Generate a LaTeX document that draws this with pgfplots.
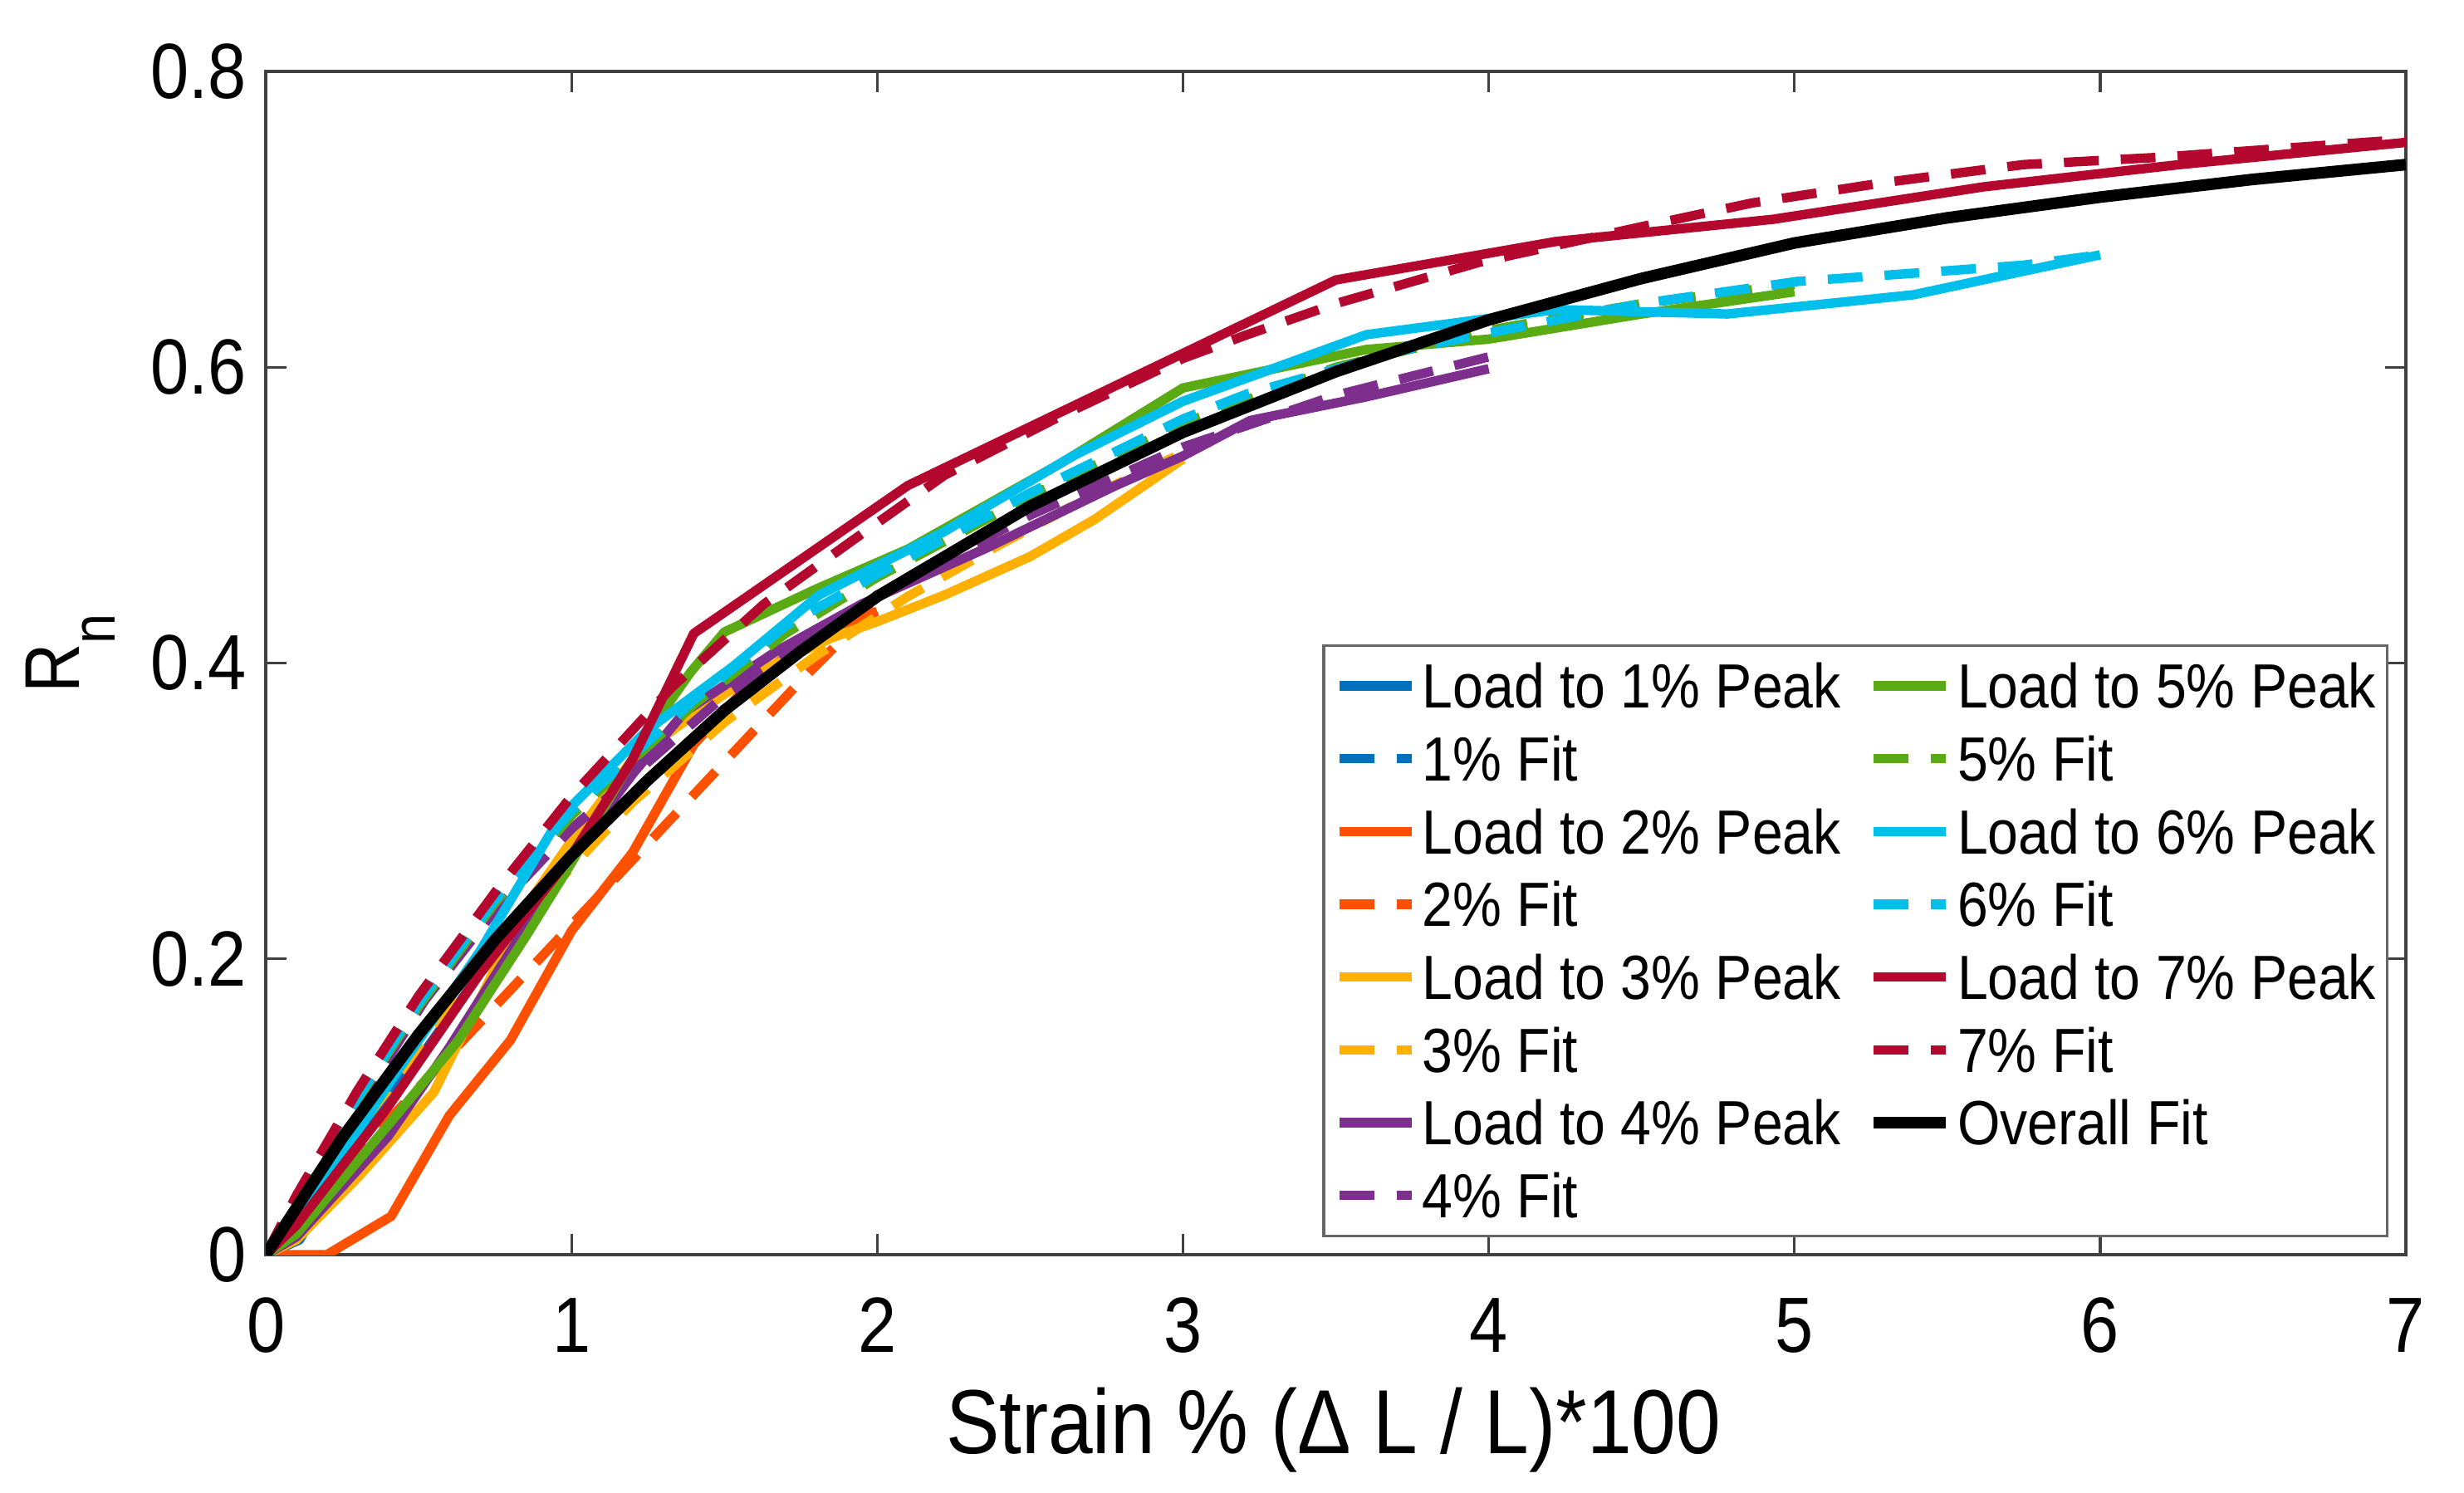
\documentclass[border=0pt]{standalone}
\usepackage{pgfplots}
\pgfplotsset{compat=1.18}
\usepackage{fontspec}
\setmainfont{Liberation Sans}[FakeStretch=0.88]
\definecolor{c1}{HTML}{0072BD}
\definecolor{c2}{HTML}{FF5000}
\definecolor{c3}{HTML}{FFB000}
\definecolor{c4}{HTML}{7E2F8E}
\definecolor{c5}{HTML}{5AAA14}
\definecolor{c6}{HTML}{00BFEA}
\definecolor{c7}{HTML}{B5082E}
\begin{document}
\begin{tikzpicture}
\useasboundingbox (-1.683cm,-1.504cm) rectangle (13.918cm,7.945cm);
\begin{axis}[
  at={(0,0)}, anchor=south west,
  scale only axis, width=13.55cm, height=7.493cm,
  xmin=0, xmax=7, ymin=0, ymax=0.8,
  xtick={0,1,2,3,4,5,6,7}, xticklabels={0,1,2,3,4,5,6,7},
  ytick={0,0.2,0.4,0.6,0.8}, yticklabels={0,0.2,0.4,0.6,0.8},
  tick align=inside, major tick length=0.13cm,
  axis line style={black!75, line width=0.5pt},
  tick style={black!75, line width=0.5pt},
  ticklabel style={font=\fontsize{14.1}{16}\selectfont},
  xticklabel style={yshift=-0.15cm},
  xlabel={Strain \% (Δ L / L)*100},
  xlabel style={at={(axis cs:3.492,-0.1342)}, anchor=base, font=\fontsize{16.4}{19}\selectfont},
  ylabel={R\raisebox{-6.5pt}{\fontsize{11}{11}\selectfont n}},
  ylabel style={at={(axis cs:-0.611,0.4065)}, anchor=base, font=\fontsize{14}{16}\selectfont},
  legend columns=2,
  legend cell align=left,
  legend image code/.code={\draw[#1] (0cm,0cm) -- (0.457cm,0cm);},
  legend style={at={(0.9919,0.0147)}, anchor=south east, draw=black!60, line width=0.5pt, fill=white,
    font=\fontsize{11.25}{12}\selectfont, inner xsep=0.07cm, inner ysep=0.115cm,
    row sep=0.18cm, column sep=0.037cm,
    nodes={inner sep=0pt, text height=8pt, text depth=0pt},
    /tikz/every even column/.append style={column sep=0.17cm}},
  every axis plot/.append style={line width=1.7pt, line join=round},
  fitdash/.style={dash pattern=on 0.22cm off 0.14cm},
]
% Load to 1% Peak
\addplot[c1, forget plot] coordinates {(0,0) (0.11,0.01) (0.25,0.06) (0.4,0.109) (0.525,0.139) (0.7,0.19) (0.85,0.235) (1.0,0.274)};
\addplot[c1, fitdash, forget plot] coordinates {(0,0) (0.25,0.078) (0.5,0.148) (0.75,0.213) (1.0,0.273)};
% 2%
\addplot[c2, forget plot] coordinates {(0,0) (0.2,0) (0.41,0.026) (0.6,0.094) (0.8,0.145) (1.0,0.219) (1.2,0.272) (1.4,0.345) (1.6,0.39) (1.8,0.418) (2.0,0.435)};
\addplot[c2, fitdash, forget plot] coordinates {(0,0) (0.25,0.056) (0.5,0.113) (0.75,0.168) (1.0,0.223) (1.25,0.278) (1.5,0.333) (1.75,0.388) (2.0,0.44)};
% 3%
\addplot[c3, forget plot] coordinates {(0,0) (0.1,0.01) (0.3,0.052) (0.55,0.11) (0.85,0.235) (1.0,0.28) (1.2,0.335) (1.4,0.365) (1.6,0.393) (1.85,0.417) (2.0,0.428) (2.22,0.446) (2.5,0.472) (2.71,0.497) (3.0,0.538)};
\addplot[c3, fitdash, forget plot] coordinates {(0,0) (0.3,0.085) (0.6,0.165) (0.9,0.24) (1.2,0.306) (1.5,0.36) (1.8,0.405) (2.1,0.445) (2.4,0.48) (2.7,0.513) (3.0,0.542)};
% 4%
\addplot[c4, forget plot] coordinates {(0,0) (0.1,0.012) (0.4,0.08) (0.6,0.14) (0.8,0.205) (1.0,0.27) (1.2,0.325) (1.37,0.367) (1.67,0.408) (1.95,0.44) (2.36,0.478) (2.78,0.52) (3.0,0.54) (3.22,0.564) (3.6,0.58) (4.0,0.599)};
\addplot[c4, fitdash, forget plot] coordinates {(0,0) (0.1,0.035) (0.3,0.1) (0.52,0.172) (0.75,0.233) (1.0,0.288) (1.5,0.378) (2.0,0.446) (2.5,0.5) (3.0,0.546) (3.5,0.581) (4.0,0.607)};
% 5%
\addplot[c5, forget plot] coordinates {(0,0) (0.1,0.014) (0.41,0.09) (0.63,0.145) (0.85,0.215) (1.0,0.265) (1.25,0.353) (1.39,0.394) (1.5,0.421) (1.8,0.45) (2.1,0.477) (2.6,0.535) (3.0,0.586) (3.6,0.612) (4.0,0.619) (4.5,0.636) (5.0,0.651)};
\addplot[c5, fitdash, forget plot] coordinates {(0,0) (0.1,0.037) (0.3,0.105) (0.5,0.168) (0.75,0.238) (1.0,0.297) (1.4,0.372) (1.7,0.42) (2.0,0.458) (2.5,0.513) (3.0,0.562) (3.5,0.6) (4.0,0.625) (4.5,0.643) (5.0,0.656)};
% 6%
\addplot[c6, forget plot] coordinates {(0,0) (0.1,0.02) (0.4,0.115) (0.7,0.205) (0.96,0.295) (1.25,0.355) (1.53,0.398) (1.81,0.446) (2.22,0.489) (2.64,0.54) (3.0,0.577) (3.6,0.622) (4.22,0.639) (4.78,0.636) (5.39,0.649) (6.0,0.676)};
\addplot[c6, fitdash, forget plot] coordinates {(0,0) (0.1,0.038) (0.3,0.106) (0.5,0.17) (0.75,0.24) (1.0,0.3) (1.4,0.375) (1.7,0.425) (2.0,0.46) (2.5,0.515) (3.0,0.565) (3.21,0.582) (3.71,0.611) (3.97,0.622) (4.5,0.643) (5.01,0.658) (5.42,0.664) (5.75,0.669) (6.0,0.676)};
% 7%
\addplot[c7, forget plot] coordinates {(0,0) (0.1,0.02) (0.4,0.1) (0.7,0.19) (1.0,0.27) (1.2,0.335) (1.4,0.42) (2.1,0.52) (3.5,0.659) (4.22,0.685) (4.93,0.70) (5.62,0.722) (6.26,0.737) (7.0,0.752)};
\addplot[c7, fitdash, forget plot] coordinates {(0,0) (0.1,0.04) (0.3,0.111) (0.5,0.175) (0.75,0.245) (1.0,0.31) (1.33,0.384) (1.63,0.44) (1.92,0.483) (2.22,0.527) (2.6,0.567) (3.0,0.606) (3.21,0.622) (3.5,0.643) (3.97,0.671) (4.5,0.695) (4.86,0.711) (5.3,0.725) (5.75,0.737) (6.2,0.742) (6.6,0.748) (7.0,0.754)};
% Overall fit
\addplot[black, line width=2.1pt, forget plot] coordinates {(0,0) (0.25,0.079) (0.5,0.149) (0.75,0.213) (1.0,0.27) (1.25,0.321) (1.5,0.368) (1.75,0.408) (2.0,0.445) (2.5,0.506) (3.0,0.556) (3.5,0.597) (4.0,0.632) (4.5,0.66) (5.0,0.684) (5.5,0.701) (6.0,0.715) (6.5,0.727) (7.0,0.737)};
% legend (row-wise order to give column layout)
\addlegendimage{c1, line width=1.7pt}\addlegendentry{Load to 1\% Peak}
\addlegendimage{c5, line width=1.7pt}\addlegendentry{Load to 5\% Peak}
\addlegendimage{c1, line width=1.7pt, fitdash}\addlegendentry{1\% Fit}
\addlegendimage{c5, line width=1.7pt, fitdash}\addlegendentry{5\% Fit}
\addlegendimage{c2, line width=1.7pt}\addlegendentry{Load to 2\% Peak}
\addlegendimage{c6, line width=1.7pt}\addlegendentry{Load to 6\% Peak}
\addlegendimage{c2, line width=1.7pt, fitdash}\addlegendentry{2\% Fit}
\addlegendimage{c6, line width=1.7pt, fitdash}\addlegendentry{6\% Fit}
\addlegendimage{c3, line width=1.7pt}\addlegendentry{Load to 3\% Peak}
\addlegendimage{c7, line width=1.7pt}\addlegendentry{Load to 7\% Peak}
\addlegendimage{c3, line width=1.7pt, fitdash}\addlegendentry{3\% Fit}
\addlegendimage{c7, line width=1.7pt, fitdash}\addlegendentry{7\% Fit}
\addlegendimage{c4, line width=1.7pt}\addlegendentry{Load to 4\% Peak}
\addlegendimage{black, line width=2.1pt}\addlegendentry{Overall Fit}
\addlegendimage{c4, line width=1.7pt, fitdash}\addlegendentry{4\% Fit}
\end{axis}
\end{tikzpicture}
\end{document}
